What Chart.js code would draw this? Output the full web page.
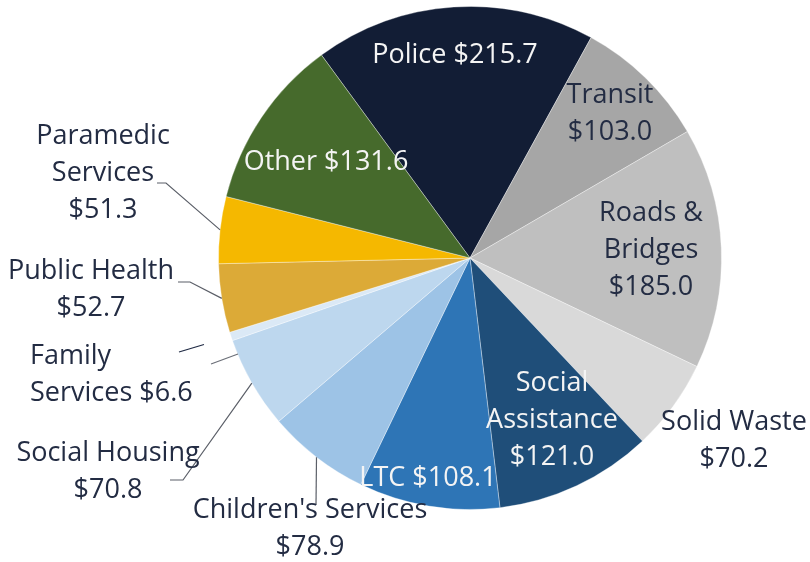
<!DOCTYPE html>
<html>
<head>
<meta charset="utf-8">
<script src="https://cdn.jsdelivr.net/npm/chart.js@4.4.0/dist/chart.umd.min.js"></script>
<style>
  html, body { margin: 0; padding: 0; background: #fff; }
  #wrap { width: 810px; height: 562px; }
</style>
</head>
<body>
<div id="wrap"><canvas id="budgetChart" width="810" height="562"></canvas></div>
<script>
// clockwise from the top
const categories = ['Police', 'Transit', 'Roads & Bridges', 'Solid Waste', 'Social Assistance', 'LTC',
  "Children's Services", 'Social Housing', 'Family Services', 'Public Health', 'Paramedic Services', 'Other'];
const amounts = [215.7, 103.0, 185.0, 70.2, 121.0, 108.1, 78.9, 70.8, 6.6, 52.7, 51.3, 131.6];
const sliceColors = ['#121d35', '#a6a6a6', '#bfbfbf', '#d9d9d9', '#1f4e79', '#2e75b6',
  '#9dc3e6', '#bdd7ee', '#dbe9f6', '#dcaa37', '#f5b800', '#466a2c'];

// label text lines (the value is appended from amounts)
const labelLines = [
  ['Police {v}'], ['Transit', '{v}'], ['Roads &', 'Bridges', '{v}'], ['Solid Waste', '{v}'],
  ['Social', 'Assistance', '{v}'], ['LTC {v}'], ["Children's Services", '{v}'], ['Social Housing', '{v}'],
  ['Family', 'Services {v}'], ['Public Health', '{v}'], ['Paramedic', 'Services', '{v}'], ['Other {v}']
];

const DARK = '#232c43';
const WHITE = '#f4f4f4';
const LINE_H = 37;

// where each label sits, plus its leader line (label side points; the last point sits on the slice edge)
const labelLayout = [
  { x: 455, y: 55, color: WHITE },
  { x: 610, y: 95, color: DARK },
  { x: 651, y: 213, color: DARK },
  { x: 734, y: 422, color: DARK },
  { x: 552, y: 383, color: WHITE },
  { x: 428, y: 478, color: WHITE },
  { x: 310, y: 510, color: DARK, leader: [[316, 505]] },
  { x: 108, y: 453, color: DARK, leader: [[170, 480], [183, 480]] },
  { x: 30, y: 356, color: DARK, align: 'left', leader: [[179, 352]], gap: 0.48, stub: [[211, 364], [238, 354]] },
  { x: 91, y: 271, color: DARK, leader: [[178, 282], [190, 282]] },
  { x: 103, y: 136, color: DARK, leader: [[157, 183], [166, 183]] },
  { x: 326, y: 162, color: WHITE }
];

function fmt(v) { return '$' + v.toFixed(1); }

const labelPlugin = {
  id: 'sliceLabels',
  afterDatasetsDraw(chart) {
    const ctx = chart.ctx;
    const meta = chart.getDatasetMeta(0);
    ctx.save();
    meta.data.forEach((arc, i) => {
      const lay = labelLayout[i];
      if (lay.leader) {
        const mid = (arc.startAngle + arc.endAngle) / 2;
        const ex = arc.x + Math.cos(mid) * arc.outerRadius;
        const ey = arc.y + Math.sin(mid) * arc.outerRadius;
        const pts = lay.leader.slice();
        let end = [ex, ey];
        if (lay.gap) {
          const last = pts[pts.length - 1];
          end = [last[0] + (ex - last[0]) * lay.gap, last[1] + (ey - last[1]) * lay.gap];
        }
        pts.push(end);
        ctx.strokeStyle = lay.gap ? '#1f2a44' : '#5b5f68';
        ctx.lineWidth = 1.2;
        ctx.beginPath();
        pts.forEach((p, k) => k ? ctx.lineTo(p[0], p[1]) : ctx.moveTo(p[0], p[1]));
        ctx.stroke();
        if (lay.stub) {
          ctx.strokeStyle = '#6b6f78';
          ctx.beginPath();
          ctx.moveTo(lay.stub[0][0], lay.stub[0][1]);
          ctx.lineTo(lay.stub[1][0], lay.stub[1][1]);
          ctx.stroke();
        }
      }
      ctx.fillStyle = lay.color;
      ctx.font = '27px "Open Sans", "Noto Sans", sans-serif';
      ctx.textAlign = lay.align || 'center';
      ctx.textBaseline = 'middle';
      labelLines[i].forEach((line, k) => {
        const txt = line.replace('{v}', fmt(amounts[i]));
        ctx.fillText(txt, lay.x, lay.y + k * LINE_H);
      });
    });
    ctx.restore();
  }
};

const ctx = document.getElementById('budgetChart').getContext('2d');
const budgetChart = new Chart(ctx, {
  type: 'pie',
  data: {
    labels: categories,
    datasets: [{
      data: amounts,
      backgroundColor: sliceColors,
      borderColor: 'rgba(255,255,255,0.35)',
      borderWidth: 1
    }]
  },
  options: {
    responsive: false,
    animation: false,
    rotation: -36.2,
    layout: { padding: { left: 218, right: 88, top: 6, bottom: 52 } },
    plugins: {
      legend: { display: false },
      tooltip: { enabled: false }
    }
  },
  plugins: [labelPlugin]
});
</script>
</body>
</html>
